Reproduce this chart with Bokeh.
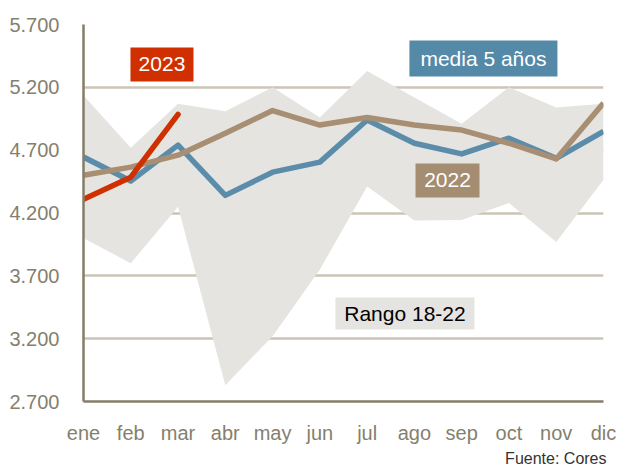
from bokeh.plotting import figure
from bokeh.models import Range1d, FixedTicker, Title
from bokeh.core.properties import value
from bokeh.embed import file_html
from bokeh.resources import INLINE

months = ["ene", "feb", "mar", "abr", "may", "jun", "jul", "ago", "sep", "oct", "nov", "dic"]
media_5 = [4645, 4455, 4740, 4340, 4525, 4605, 4940, 4755, 4670, 4795, 4635, 4850]
y2022 = [4500, 4565, 4660, 4835, 5015, 4900, 4960, 4900, 4860, 4755, 4630, 5075]
y2023 = [4310, 4485, 4985]
rango_max = [5135, 4720, 5070, 5010, 5200, 4960, 5330, 5120, 4910, 5200, 5040, 5070]
rango_min = [4000, 3800, 4250, 2830, 3220, 3750, 4410, 4140, 4145, 4280, 3970, 4465]
y_ticks = [2700, 3200, 3700, 4200, 4700, 5200, 5700]

FONT = "Liberation Sans"
TICK_COL = "#857F6E"

xs = list(range(len(months)))

p = figure(width=620, height=468, output_backend="svg", toolbar_location=None,
           x_range=Range1d(0, len(months) - 1), y_range=Range1d(y_ticks[0], y_ticks[-1]),
           min_border_left=83, min_border_right=17, min_border_top=24, min_border_bottom=67)
p.outline_line_color = None
p.background_fill_color = "white"
p.border_fill_color = "white"

# band
p.varea(x=xs, y1=rango_min, y2=rango_max, fill_color="#E5E4E0")
# lines
p.line(xs, media_5, line_color="#5B8DAA", line_width=5.5, line_join="round")
p.line(xs, y2022, line_color="#A88E72", line_width=5.5, line_join="round")
p.line(xs[:len(y2023)], y2023, line_color="#D03000", line_width=5.5, line_join="round", line_cap="round")

# axes
p.xaxis.ticker = FixedTicker(ticks=xs)
p.xaxis.major_label_overrides = {i: m for i, m in enumerate(months)}
p.yaxis.ticker = FixedTicker(ticks=y_ticks)
p.yaxis.major_label_overrides = {t: f"{t:,}".replace(",", ".") for t in y_ticks}
for ax in (p.xaxis, p.yaxis):
    ax.major_tick_line_color = None
    ax.minor_tick_line_color = None
    ax.major_label_text_font = FONT
    ax.major_label_text_font_size = "20px"
    ax.major_label_text_color = TICK_COL
    ax.axis_line_color = "#857D68"
    ax.axis_line_width = 2.5
p.yaxis.major_label_standoff = 18
p.xaxis.major_label_standoff = 14

p.xgrid.grid_line_color = None
p.ygrid.grid_line_color = "#CAC5B8"
p.ygrid.grid_line_width = 2.5

# labelled boxes
def box(x, y, w, h, text, fill, tcol):
    p.rect(x=[x], y=[y], width=w, height=h, width_units="screen", height_units="screen",
           fill_color=fill, line_color=None)
    p.text(x=[x], y=[y], text=[text], text_align="center", text_baseline="middle",
           text_font=value(FONT), text_font_size="21px", text_color=tcol)

box(1.66, 5382, 63, 34, "2023", "#D03000", "white")
box(8.46, 5429, 148, 36, "media 5 años", "#5589A8", "white")
box(7.70, 4459, 64, 34, "2022", "#A58D71", "white")
box(6.80, 3400, 139, 32, "Rango 18-22", "#E5E4E0", "black")

p.add_layout(Title(text="Fuente: Cores", align="right", text_font=FONT, text_font_size="16px",
                   text_font_style="normal", text_color="#333333", standoff=2, offset=-3), "below")

open("out.html", "w").write(file_html(p, INLINE))
